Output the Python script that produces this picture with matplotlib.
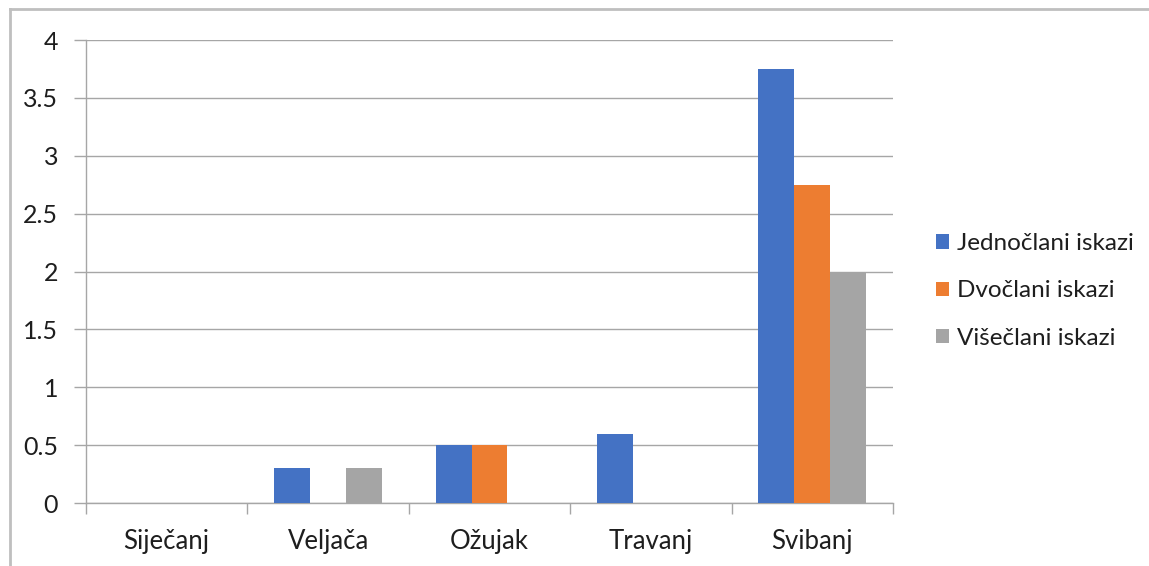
import numpy as np
import matplotlib

matplotlib.use("Agg")
import matplotlib.pyplot as plt
from matplotlib.lines import Line2D

months = ["Siječanj", "Veljača", "Ožujak", "Travanj", "Svibanj"]
series_names = ["Jednočlani iskazi", "Dvočlani iskazi", "Višečlani iskazi"]
jednoclani = [0, 0.3, 0.5, 0.6, 3.75]
dvoclani = [0, 0, 0.5, 0, 2.75]
viseclani = [0, 0.3, 0, 0, 2.0]
y_ticks = [0, 0.5, 1, 1.5, 2, 2.5, 3, 3.5, 4]

COLORS = ["#4472C4", "#ED7D31", "#A5A5A5"]
GRID = "#a6a6a6"
TEXT = "#1e1e1e"

plt.rcParams["font.family"] = ["Lato", "DejaVu Sans"]

fig = plt.figure(figsize=(11.49, 5.66), dpi=100)
ax = fig.add_axes([0.0748, 0.1113, 0.7024, 0.818])

x = np.arange(len(months))
width = 1 / 4.5
for i, (name, values) in enumerate(zip(series_names, [jednoclani, dvoclani, viseclani])):
    ax.bar(x + (i - 1) * width, values, width=width, color=COLORS[i], label=name, zorder=3)

ax.set_xlim(-0.5, len(months) - 0.5)
ax.set_ylim(0, 4)
ax.set_yticks(y_ticks)
ax.set_yticklabels([f"{t:g}" for t in y_ticks])
ax.yaxis.grid(True, color=GRID, linewidth=1.0, zorder=0)

# category labels centred, tick marks on the boundaries
ax.set_xticks(x)
ax.set_xticklabels(months)
ax.set_xticks(np.arange(-0.5, len(months)), minor=True)
ax.tick_params(axis="x", which="major", length=0, pad=19, labelsize=18.5, colors=TEXT)
ax.tick_params(axis="x", which="minor", length=8, width=1, color=GRID)
ax.tick_params(axis="y", length=9, width=1, color=GRID, pad=11, labelsize=18,
               labelcolor=TEXT)

for side in ["top", "right"]:
    ax.spines[side].set_visible(False)
for side in ["left", "bottom"]:
    ax.spines[side].set_color(GRID)
    ax.spines[side].set_linewidth(1.0)

leg = ax.legend(loc="center left", bbox_to_anchor=(1.026, 0.458), frameon=False,
                fontsize=17.5, handlelength=0.55, handleheight=0.55,
                handletextpad=0.3, labelspacing=1.08)
for text in leg.get_texts():
    text.set_color(TEXT)

# chart area border (left and top edges visible)
fig.add_artist(Line2D([10 / 1149, 10 / 1149], [0, 1 - 9 / 566],
                      transform=fig.transFigure, color="#bfbfbf", linewidth=2))
fig.add_artist(Line2D([10 / 1149, 1], [1 - 9 / 566, 1 - 9 / 566],
                      transform=fig.transFigure, color="#bfbfbf", linewidth=2))

fig.savefig("out.png", dpi=100)
